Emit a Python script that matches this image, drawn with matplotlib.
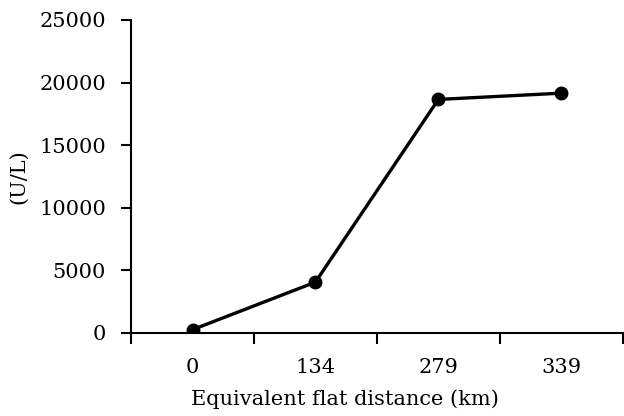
import matplotlib
matplotlib.use("Agg")
import matplotlib.pyplot as plt
import numpy as np

# data
categories = ["0", "134", "279", "339"]
activity = [250, 4050, 18650, 19150]
y_ticks = [0, 5000, 10000, 15000, 20000, 25000]

plt.rcParams['font.family'] = ['DejaVu Serif']
plt.rcParams['font.size'] = 15

fig = plt.figure(figsize=(6.24, 4.16), dpi=100)
ax = fig.add_axes([0.21, 0.2, 0.788, 0.752])

x = np.arange(len(categories))
ax.plot(x, activity, color='black', lw=2.4, marker='o', ms=9)

ax.set_xlim(-0.5, len(categories) - 0.5)
ax.set_ylim(0, 25000)
ax.set_yticks(y_ticks)
ax.set_xticks(x)
ax.set_xticklabels(categories)
ax.tick_params(axis='x', length=0, pad=18)
ax.set_xticks(np.arange(len(categories) + 1) - 0.5, minor=True)
ax.tick_params(axis='x', which='minor', length=8, width=1.5, direction='out')
ax.tick_params(axis='y', length=7, width=1.5, direction='out', pad=11)

for s in ['top', 'right']:
    ax.spines[s].set_visible(False)
for s in ['left', 'bottom']:
    ax.spines[s].set_linewidth(1.5)

ax.set_ylabel("(U/L)", labelpad=8)
ax.set_xlabel("Equivalent flat distance (km)", labelpad=9)
# label sits a bit left of centre in the original
ax.xaxis.label.set_x(0.435)

fig.savefig("out.png", dpi=100)
